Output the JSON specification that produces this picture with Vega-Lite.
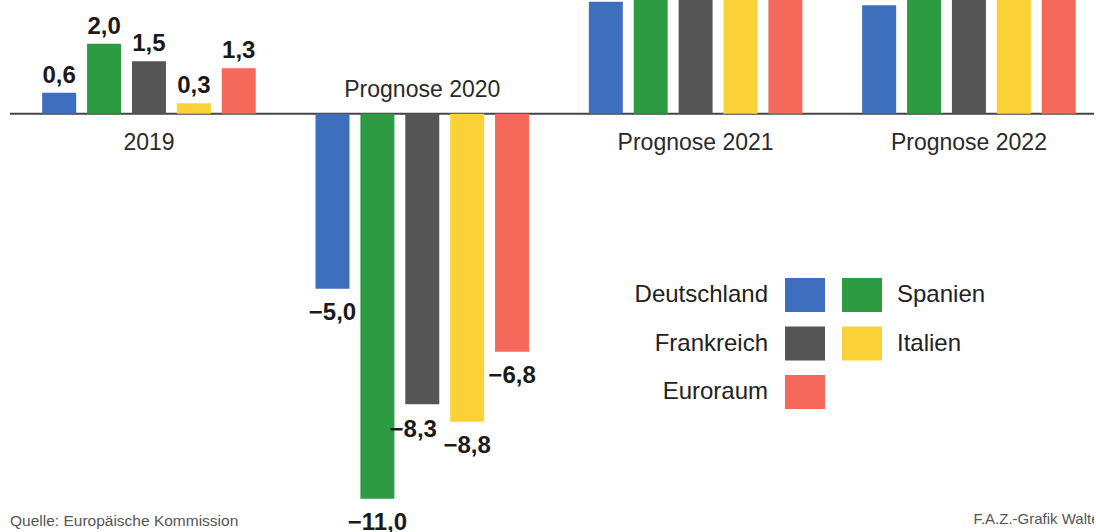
{
  "$schema": "https://vega.github.io/schema/vega-lite/v6.json",
  "width": 1084,
  "height": 532,
  "autosize": {"type": "none"},
  "padding": {"left": 10, "top": 0, "right": 0, "bottom": 0},
  "background": "white",
  "config": {
    "view": {"stroke": null},
    "font": "Liberation Sans",
    "locale": {"number": {"decimal": ",", "thousands": ".", "grouping": [3], "currency": ["", " €"]}}
  },
  "title": {
    "text": "Quelle: Europäische Kommission",
    "orient": "bottom",
    "anchor": "start",
    "frame": "group",
    "offset": -21,
    "baseline": "top",
    "fontSize": 15.5,
    "fontWeight": "normal",
    "color": "#555555",
    "font": "Liberation Sans"
  },
  "datasets": {
    "gdp": [
      {"group": "2019", "country": "Deutschland", "value": 0.6},
      {"group": "2019", "country": "Spanien", "value": 2.0},
      {"group": "2019", "country": "Frankreich", "value": 1.5},
      {"group": "2019", "country": "Italien", "value": 0.3},
      {"group": "2019", "country": "Euroraum", "value": 1.3},
      {"group": "Prognose 2020", "country": "Deutschland", "value": -5.0},
      {"group": "Prognose 2020", "country": "Spanien", "value": -11.0},
      {"group": "Prognose 2020", "country": "Frankreich", "value": -8.3},
      {"group": "Prognose 2020", "country": "Italien", "value": -8.8},
      {"group": "Prognose 2020", "country": "Euroraum", "value": -6.8},
      {"group": "Prognose 2021", "country": "Deutschland", "value": 3.2},
      {"group": "Prognose 2021", "country": "Spanien", "value": 5.6},
      {"group": "Prognose 2021", "country": "Frankreich", "value": 5.5},
      {"group": "Prognose 2021", "country": "Italien", "value": 3.4},
      {"group": "Prognose 2021", "country": "Euroraum", "value": 3.8},
      {"group": "Prognose 2022", "country": "Deutschland", "value": 3.1},
      {"group": "Prognose 2022", "country": "Spanien", "value": 5.3},
      {"group": "Prognose 2022", "country": "Frankreich", "value": 4.4},
      {"group": "Prognose 2022", "country": "Italien", "value": 3.5},
      {"group": "Prognose 2022", "country": "Euroraum", "value": 3.8}
    ],
    "groups": [
      {"group": "2019"},
      {"group": "Prognose 2020"},
      {"group": "Prognose 2021"},
      {"group": "Prognose 2022"}
    ],
    "one": [{"k": 1}]
  },
  "data": {"name": "gdp"},
  "layer": [
    {
      "data": {"name": "one"},
      "mark": {"type": "rule", "color": "#444444", "strokeWidth": 2},
      "encoding": {
        "y": {"datum": 0, "type": "quantitative", "scale": {"domain": [-11.95, 3.25], "nice": false, "zero": false}, "axis": null}
      }
    },
    {
      "transform": [{"filter": {"field": "country", "oneOf": ["Deutschland", "Frankreich", "Euroraum"]}}],
      "mark": {"type": "bar"},
      "encoding": {
        "x": {
          "field": "group", "type": "nominal",
          "scale": {"domain": ["2019", "Prognose 2020", "Prognose 2021", "Prognose 2022"], "paddingInner": 0.2, "paddingOuter": 0.083, "align": 0.653, "round": false},
          "axis": {
            "orient": "bottom", "labels": false, "ticks": false, "domain": false, "grid": false,
            "title": "F.A.Z.-Grafik Walter", "titleAnchor": "end", "titleAlign": "right", "titleBaseline": "top",
            "titleX": 1094, "titleY": -21, "titleFontSize": 15, "titleFontWeight": "normal", "titleColor": "#555555", "titleFont": "Liberation Sans"
          }
        },
        "xOffset": {"field": "country", "type": "nominal", "scale": {"domain": ["Deutschland", "Spanien", "Frankreich", "Italien", "Euroraum"], "paddingInner": 0.243, "paddingOuter": 0.057, "round": false}},
        "y": {"field": "value", "type": "quantitative", "scale": {"domain": [-11.95, 3.25], "nice": false, "zero": false}, "axis": null},
        "y2": {"datum": 0},
        "color": {
          "field": "country", "type": "nominal",
          "scale": {"domain": ["Deutschland", "Frankreich", "Euroraum"], "range": ["#3e6ebe", "#555555", "#f5695a"]},
          "legend": {
            "orient": "none", "legendX": 775, "legendY": 275, "title": null, "padding": 0,
            "direction": "vertical",
            "symbolType": "M-1,-0.85H1V0.85H-1Z", "symbolSize": 1600, "symbolStrokeWidth": 0, "symbolOpacity": 1,
            "labelFont": "Liberation Sans", "labelFontSize": 24, "labelColor": "#222222",
            "labelAlign": "right", "labelOffset": -57, "labelLimit": 300, "rowPadding": 11.5
          }
        }
      }
    },
    {
      "transform": [{"filter": {"field": "country", "oneOf": ["Spanien", "Italien"]}}],
      "mark": {"type": "bar"},
      "encoding": {
        "x": {"field": "group", "type": "nominal", "scale": {"domain": ["2019", "Prognose 2020", "Prognose 2021", "Prognose 2022"], "paddingInner": 0.2, "paddingOuter": 0.083, "align": 0.653, "round": false}},
        "xOffset": {"field": "country", "type": "nominal", "scale": {"domain": ["Deutschland", "Spanien", "Frankreich", "Italien", "Euroraum"], "paddingInner": 0.243, "paddingOuter": 0.057, "round": false}},
        "y": {"field": "value", "type": "quantitative", "scale": {"domain": [-11.95, 3.25], "nice": false, "zero": false}, "axis": null},
        "y2": {"datum": 0},
        "color": {
          "field": "country", "type": "nominal",
          "scale": {"domain": ["Spanien", "Italien"], "range": ["#2d9b41", "#fad237"]},
          "legend": {
            "orient": "none", "legendX": 832, "legendY": 275, "title": null, "padding": 0,
            "direction": "vertical",
            "symbolType": "M-1,-0.85H1V0.85H-1Z", "symbolSize": 1600, "symbolStrokeWidth": 0, "symbolOpacity": 1,
            "labelFont": "Liberation Sans", "labelFontSize": 24, "labelColor": "#222222",
            "labelAlign": "left", "labelOffset": 15, "labelLimit": 300, "rowPadding": 11.5
          }
        }
      }
    },
    {
      "transform": [{"filter": "datum.value > 0"}],
      "mark": {"type": "text", "font": "Liberation Sans", "fontSize": 24, "fontWeight": "bold", "color": "#1a1a1a", "baseline": "alphabetic", "align": "center", "dy": -10},
      "encoding": {
        "x": {"field": "group", "type": "nominal", "scale": {"domain": ["2019", "Prognose 2020", "Prognose 2021", "Prognose 2022"], "paddingInner": 0.2, "paddingOuter": 0.083, "align": 0.653, "round": false}},
        "xOffset": {"field": "country", "type": "nominal", "scale": {"domain": ["Deutschland", "Spanien", "Frankreich", "Italien", "Euroraum"], "paddingInner": 0.243, "paddingOuter": 0.057, "round": false}},
        "y": {"field": "value", "type": "quantitative", "scale": {"domain": [-11.95, 3.25], "nice": false, "zero": false}, "axis": null},
        "text": {"field": "value", "type": "quantitative", "format": ".1f"}
      }
    },
    {
      "transform": [{"filter": "datum.value < 0 && datum.country != 'Frankreich'"}],
      "mark": {"type": "text", "font": "Liberation Sans", "fontSize": 24, "fontWeight": "bold", "color": "#1a1a1a", "baseline": "top", "align": "center", "dy": 12},
      "encoding": {
        "x": {"field": "group", "type": "nominal", "scale": {"domain": ["2019", "Prognose 2020", "Prognose 2021", "Prognose 2022"], "paddingInner": 0.2, "paddingOuter": 0.083, "align": 0.653, "round": false}},
        "xOffset": {"field": "country", "type": "nominal", "scale": {"domain": ["Deutschland", "Spanien", "Frankreich", "Italien", "Euroraum"], "paddingInner": 0.243, "paddingOuter": 0.057, "round": false}},
        "y": {"field": "value", "type": "quantitative", "scale": {"domain": [-11.95, 3.25], "nice": false, "zero": false}, "axis": null},
        "text": {"field": "value", "type": "quantitative", "format": ".1f"}
      }
    },
    {
      "transform": [{"filter": "datum.value < 0 && datum.country == 'Frankreich'"}],
      "mark": {"type": "text", "font": "Liberation Sans", "fontSize": 24, "fontWeight": "bold", "color": "#1a1a1a", "baseline": "top", "align": "center", "dy": 14, "dx": -9},
      "encoding": {
        "x": {"field": "group", "type": "nominal", "scale": {"domain": ["2019", "Prognose 2020", "Prognose 2021", "Prognose 2022"], "paddingInner": 0.2, "paddingOuter": 0.083, "align": 0.653, "round": false}},
        "xOffset": {"field": "country", "type": "nominal", "scale": {"domain": ["Deutschland", "Spanien", "Frankreich", "Italien", "Euroraum"], "paddingInner": 0.243, "paddingOuter": 0.057, "round": false}},
        "y": {"field": "value", "type": "quantitative", "scale": {"domain": [-11.95, 3.25], "nice": false, "zero": false}, "axis": null},
        "text": {"field": "value", "type": "quantitative", "format": ".1f"}
      }
    },
    {
      "data": {"name": "groups"},
      "transform": [{"filter": "datum.group != 'Prognose 2020'"}],
      "mark": {"type": "text", "font": "Liberation Sans", "fontSize": 23, "color": "#2a2a2a", "baseline": "alphabetic", "align": "center", "dy": 36},
      "encoding": {
        "x": {"field": "group", "type": "nominal", "scale": {"domain": ["2019", "Prognose 2020", "Prognose 2021", "Prognose 2022"], "paddingInner": 0.2, "paddingOuter": 0.083, "align": 0.653, "round": false}},
        "y": {"datum": 0, "type": "quantitative", "scale": {"domain": [-11.95, 3.25], "nice": false, "zero": false}, "axis": null},
        "text": {"field": "group", "type": "nominal"}
      }
    },
    {
      "data": {"name": "groups"},
      "transform": [{"filter": "datum.group == 'Prognose 2020'"}],
      "mark": {"type": "text", "font": "Liberation Sans", "fontSize": 23, "color": "#2a2a2a", "baseline": "alphabetic", "align": "center", "dy": -17},
      "encoding": {
        "x": {"field": "group", "type": "nominal", "scale": {"domain": ["2019", "Prognose 2020", "Prognose 2021", "Prognose 2022"], "paddingInner": 0.2, "paddingOuter": 0.083, "align": 0.653, "round": false}},
        "y": {"datum": 0, "type": "quantitative", "scale": {"domain": [-11.95, 3.25], "nice": false, "zero": false}, "axis": null},
        "text": {"field": "group", "type": "nominal"}
      }
    }
  ],
  "resolve": {"scale": {"color": "independent"}, "legend": {"color": "independent"}}
}
